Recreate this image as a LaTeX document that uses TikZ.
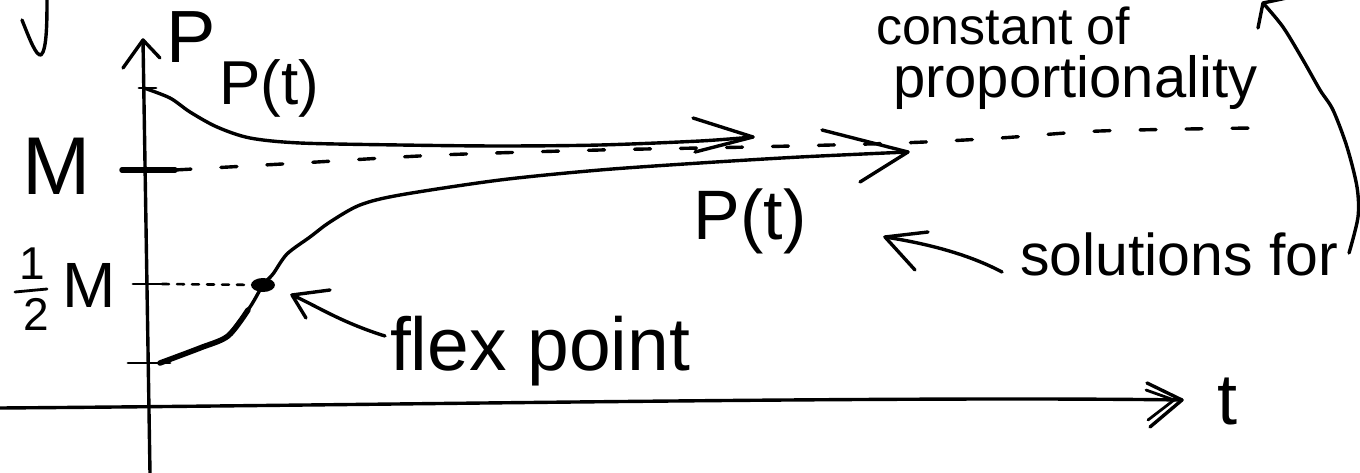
\documentclass[tikz,border=0pt]{standalone}
\usepackage{fontspec}
\setmainfont{Liberation Sans}
\usetikzlibrary{arrows.meta}

\begin{document}
\begin{tikzpicture}[x=1pt,y=-1pt,line cap=round,line join=round,
  pen/.style={line width=3.4pt},
  thinpen/.style={line width=2.8pt},
  boldpen/.style={line width=5.5pt},
  asym/.style={pen,dash pattern=on 16pt off 30pt},
  dotline/.style={line width=2.6pt,dash pattern=on 7pt off 8pt},
  lbl/.style={inner sep=0pt,outer sep=0pt},
  fs/.style={font=\fontsize{#1}{#1}\selectfont}]
\useasboundingbox (0,0) rectangle (1360,473);

% ---- axes --------------------------------------------------------------
\coordinate (ybot) at (150,473);
\coordinate (ytip) at (143,40);
\coordinate (ybarbL) at (123,68);
\coordinate (ybarbR) at (160,58);
\draw[pen] (ybot) -- (ytip);
\draw[pen] (ybarbL) -- (ytip) -- (ybarbR);

\coordinate (xleft) at (0,408);
\coordinate (xtip) at (1182,400);
\draw[pen] (xleft) .. controls (400,405) and (900,396) .. (xtip);
\coordinate (xb1) at (1147,383);
\coordinate (xb2) at (1150,427);
\coordinate (xtip2) at (1174,400);
\coordinate (xb3) at (1146,390);
\coordinate (xb4) at (1148,420);
\draw[pen] (xb1) -- (xtip) -- (xb2);
\draw[thinpen] (xb3) -- (xtip2) -- (xb4);

\node[lbl,fs=74] (Plab) at (191,37) {P};
\node[lbl,fs=72] (tlab) at (1227,402) {t};

% ---- ticks on the P axis ----------------------------------------------
\coordinate (p0a) at (139,88);   \coordinate (p0b) at (156,88);
\coordinate (Ma) at (122,170);   \coordinate (Mb) at (175,170);
\coordinate (Ha) at (133,284);   \coordinate (Hb) at (162,284);
\coordinate (La) at (128,363);   \coordinate (Lb) at (170,363);
\draw[thinpen] (p0a) -- (p0b);
\draw[boldpen] (Ma) -- (Mb);
\draw[thinpen] (Ha) -- (Hb);
\draw[thinpen] (La) -- (Lb);

\node[lbl,fs=82] (Mlab) at (57,166) {M};
\node[lbl,fs=46] (one) at (32,264) {1};
\coordinate (bar1) at (15,292);
\coordinate (bar2) at (47,289);
\draw[thinpen] (bar1) -- (bar2);
\node[lbl,fs=46] (two) at (36,314) {2};
\node[lbl,fs=64] (halfM) at (89,285) {M};

% ---- carrying capacity (dashed) and half level (dotted) ---------------
\draw[asym] plot[smooth] coordinates {(Mb) (300,163) (440,155) (600,150)
  (750,147) (900,143) (1000,138) (1100,131) (1252,128)};
\coordinate (flex) at (263,285);
\draw[dotline] (Hb) -- (flex);

% ---- solution starting above M ----------------------------------------
\coordinate (uStart) at (144,88);
\coordinate (uTip) at (753,137);
\coordinate (uB1) at (693,118);
\coordinate (uB2) at (695,152);
\draw[pen] plot[smooth] coordinates {(uStart) (170,98) (190,112) (217,127)
  (250,138) (300,143) (400,145) (500,146) (600,145) (700,141) (uTip)};
\draw[pen] (uB1) -- (uTip) -- (uB2);
\node[lbl,fs=62] (Pt1) at (269,88) {P(t)};

% ---- logistic solution starting below M/2 ------------------------------
\coordinate (lStart) at (160,363);
\coordinate (lTip) at (908,152);
\coordinate (lB1) at (822,130);
\coordinate (lB2) at (860,182);
\draw[line width=5.5pt] plot[smooth] coordinates {(lStart) (200,348) (228,336) (248,310)};
\draw[pen] plot[smooth] coordinates {(228,336) (250,307) (flex) (273,274)
  (287,254) (310,237) (330,222) (360,205) (400,195) (500,180) (600,170)
  (700,163) (800,157) (lTip)};
\draw[pen] (lB1) -- (lTip) -- (lB2);
\fill (flex) ellipse [x radius=12pt,y radius=7pt];
\node[lbl,fs=70] (Pt2) at (750,221) {P(t)};

% ---- annotations ---------------------------------------------------------
\node[lbl,fs=75,anchor=base west] (flexlab) at (390,370) {flex point};
\coordinate (fTail) at (385,336);
\coordinate (fTip) at (292,295);
\coordinate (fB1) at (330,290);
\coordinate (fB2) at (306,318);
\draw[pen] (fTail) .. controls (340,322) and (315,305) .. (fTip);
\draw[pen] (fB1) -- (fTip) -- (fB2);

\node[lbl,fs=59,anchor=base west] (sollab) at (1020,276) {solutions for};
\coordinate (sTail) at (1002,272);
\coordinate (sTip) at (885,237);
\coordinate (sB1) at (928,232);
\coordinate (sB2) at (915,270);
\draw[pen] (sTail) .. controls (970,255) and (930,244) .. (sTip);
\draw[pen] (sB1) -- (sTip) -- (sB2);

\node[lbl,fs=52,anchor=base west] (constlab) at (876,45) {constant of};
\node[lbl,fs=58,anchor=base west] (proplab) at (893,98) {proportionality};

% curved pointer from "for" up past the top edge
\coordinate (cStart) at (1349,253);
\coordinate (cTip) at (1263,3);
\coordinate (cB1) at (1258,28);
\coordinate (cB2) at (1296,-4);
\draw[pen] plot[smooth] coordinates {(cStart) (1358,217) (1357,187)
  (1347,147) (1333,110) (1320,90) (1303,60) (1283,27) (cTip)};
\draw[pen] (cB1) -- (cTip) -- (cB2);

% stroke cut by the top edge
\coordinate (jA) at (22,20);
\coordinate (jB) at (47,-2);
\draw[pen] (jA) .. controls (30,40) and (36,56) .. (41,55)
  .. controls (47,50) and (47,20) .. (jB);
\end{tikzpicture}
\end{document}
